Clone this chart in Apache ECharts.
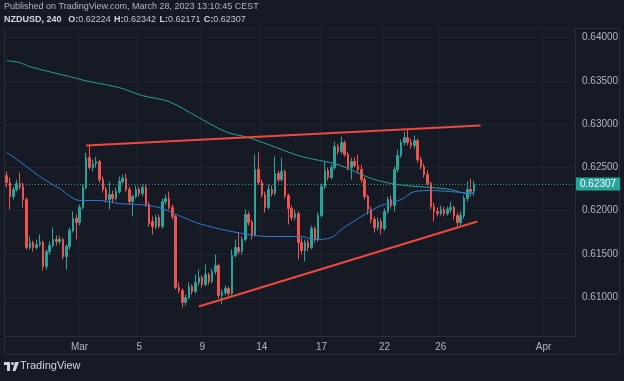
<!DOCTYPE html>
<html><head><meta charset="utf-8">
<script src="https://cdn.jsdelivr.net/npm/echarts@6/dist/echarts.min.js"></script>
<style>html,body{margin:0;padding:0;background:#161a25;}#c{width:624px;height:381px;}</style>
</head><body><div id="c"></div>
<script>
// ---- data ----
const categoryCount = 172;
const xTickIdx = [22, 40, 59, 77, 95, 114, 131, 162];
const xTickText = ['Mar', '5', '9', '14', '17', '22', '26', 'Apr'];

const opens = [.62404,.62323,.62162,.62243,.62312,.62277,.62127,.61573,.61630,.61573,.61607,.61630,.61353,.61526,.61596,.61665,.61642,.61665,.61468,.61584,
.61769,.61908,.61861,.62035,.62266,.62612,.62497,.62543,.62566,.62358,.62243,.62127,.62185,.62139,.62219,.62335,.62370,.62243,.62104,.62162,
.62243,.62196,.62266,.62069,.61873,.61815,.61919,.61815,.62104,.62139,.62035,.61931,.61111,.61076,.60938,.60995,.61122,.61064,.61168,.61226,
.61145,.61261,.61180,.61295,.61365,.61018,.61053,.61099,.61041,.61480,.61573,.61526,.61665,.61954,.61861,.61723,.62474,.62323,.62185,.62035,
.62243,.62196,.62427,.62358,.62451,.62173,.62023,.61919,.61965,.61630,.61538,.61630,.61573,.61792,.61665,.61942,.62277,.62462,.62381,.62497,
.62739,.62681,.62785,.62647,.62497,.62566,.62520,.62474,.62358,.62162,.62012,.61896,.61804,.61873,.61792,.61988,.62127,.62058,.62474,.62635,
.62785,.62843,.62785,.62751,.62809,.62589,.62508,.62416,.62312,.62046,.61988,.61965,.62012,.61965,.62012,.62035,.61942,.61861,.61942,.62139,
.62243,.62224];
const closes = [.62323,.62162,.62243,.62312,.62277,.62127,.61573,.61630,.61573,.61607,.61630,.61353,.61526,.61596,.61665,.61642,.61665,.61468,.61584,.61769,
.61908,.61861,.62035,.62266,.62612,.62497,.62543,.62566,.62358,.62243,.62127,.62185,.62139,.62219,.62335,.62370,.62243,.62104,.62162,.62243,
.62196,.62266,.62069,.61850,.61815,.61919,.61815,.62104,.62139,.62035,.61931,.61111,.61076,.60938,.60995,.61122,.61064,.61168,.61226,.61145,
.61261,.61180,.61295,.61365,.61018,.61053,.61099,.61041,.61480,.61573,.61526,.61665,.61954,.61861,.61723,.62474,.62323,.62185,.62035,.62243,
.62196,.62427,.62358,.62451,.62173,.62023,.61919,.61965,.61630,.61538,.61630,.61573,.61792,.61665,.61942,.62277,.62462,.62381,.62497,.62739,
.62681,.62785,.62647,.62497,.62566,.62520,.62474,.62358,.62162,.62012,.61896,.61804,.61873,.61792,.61988,.62127,.62058,.62474,.62635,.62785,
.62843,.62785,.62751,.62809,.62589,.62508,.62416,.62312,.62046,.61988,.61965,.62012,.61965,.62012,.62035,.61942,.61861,.61942,.62139,.62243,
.62219,.62307];
const lows = [.62266,.62012,.62127,.62219,.62243,.62035,.61550,.61550,.61526,.61550,.61584,.61307,.61318,.61492,.61573,.61596,.61607,.61434,.61318,.61550,
.61746,.61665,.61827,.62012,.62243,.62474,.62451,.62497,.62323,.62208,.62092,.62012,.62092,.62116,.62196,.62312,.62219,.62069,.61931,.62139,
.62162,.62162,.62046,.61815,.61723,.61781,.61792,.61792,.62069,.62012,.61896,.61088,.61041,.60880,.60903,.60972,.61030,.61041,.61134,.61111,
.61122,.61145,.61157,.61261,.60984,.60914,.61018,.61007,.61018,.61457,.61492,.61492,.61642,.61827,.61665,.61700,.62300,.62150,.61977,.62012,
.62162,.62173,.62323,.62335,.62139,.61838,.61885,.61885,.61434,.61492,.61411,.61526,.61550,.61630,.61642,.61919,.62254,.62347,.62358,.62474,
.62647,.62658,.62624,.62462,.62358,.62497,.62439,.62323,.62127,.61954,.61850,.61746,.61769,.61723,.61769,.61965,.62023,.61988,.62439,.62612,
.62751,.62751,.62716,.62716,.62554,.62474,.62381,.62289,.62012,.61873,.61931,.61942,.61931,.61942,.61977,.61896,.61815,.61827,.61908,.62104,
.62162,.62171];
const highs = [.62451,.62381,.62277,.62358,.62439,.62323,.62150,.61700,.61653,.61665,.61723,.61653,.61550,.61642,.61804,.61711,.61711,.61688,.61607,.61804,
.61988,.61954,.62069,.62300,.62670,.62751,.62589,.62624,.62589,.62393,.62277,.62335,.62231,.62266,.62393,.62416,.62427,.62277,.62185,.62289,
.62277,.62300,.62300,.62104,.61931,.61954,.61954,.62139,.62185,.62219,.62069,.61954,.61168,.61099,.61030,.61168,.61145,.61261,.61318,.61249,
.61376,.61284,.61330,.61492,.61388,.61088,.61134,.61122,.61550,.61665,.61746,.61700,.62012,.61988,.61896,.62647,.62670,.62358,.62219,.62300,
.62289,.62624,.62462,.62612,.62474,.62196,.62058,.62012,.61988,.61688,.61665,.61665,.61827,.61815,.61977,.62312,.62566,.62497,.62531,.62797,
.62774,.62855,.62809,.62681,.62612,.62612,.62647,.62531,.62381,.62185,.62046,.61931,.61919,.61908,.62023,.62162,.62173,.62508,.62705,.62820,
.62912,.62936,.62832,.62866,.62832,.62624,.62543,.62462,.62335,.62092,.62035,.62058,.62046,.62046,.62104,.62058,.61977,.61988,.62173,.62335,
.62370,.62342];

// slow moving average (teal), read at sample candles
const maSlowIdx = [0, 4, 7, 19, 25, 34, 41, 49, 58, 66, 73, 79, 89, 100, 110, 118, 128, 134, 139, 141];
const maSlowVal = [.63733,.63709,.63663,.63548,.63490,.63421,.63328,.63259,.63074,.62912,.62843,.62762,.62624,.62531,.62370,.62300,.62266,.62243,.62196,.62208];
// fast moving average (blue)
const maFastIdx = [0, 4, 10, 16, 22, 28, 34, 40, 46, 52, 58, 68, 79, 89, 93, 98, 101, 107, 113, 119, 123, 128, 134, 141];
const maFastVal = [.62670,.62566,.62393,.62254,.62116,.62116,.62081,.62069,.62035,.61942,.61850,.61757,.61700,.61700,.61665,.61688,.61781,.61931,.62058,.62127,.62219,.62231,.62219,.62196];

// drawn trend lines
const trendUpIdx = [24, 143];
const trendUpVal = [.62751, .62982];
const trendLowIdx = [58, 142];
const trendLowVal = [.60891, .61873];

const headerTitle = 'Published on TradingView.com, March 28, 2023 13:10:45 CEST';
const symbolText = 'NZDUSD, 240';

// ---- chart ----
const categories = Array.from({length: categoryCount}, (_, i) => String(i));
const candles = opens.map((o, i) => [o, closes[i], lows[i], highs[i]]);
const last = opens.length - 1;
const pairs = (a, b) => a.map((x, k) => [x, b[k]]);

const UP = '#26a69a', DOWN = '#ef5350';
const GRIDC = '#1f2330', BORDER = '#2a2e39', TXT = '#b2b5be';
const narrow = '"Liberation Sans Narrow","Liberation Sans",sans-serif';

const chart = echarts.init(document.getElementById('c'), null, {renderer: 'canvas'});
chart.setOption({
  backgroundColor: '#161a25',
  animation: false,
  grid: {left: 5, right: 49, top: 28, bottom: 45},
  xAxis: {
    type: 'category', data: categories, boundaryGap: true,
    axisLine: {show: true, lineStyle: {color: BORDER}},
    axisTick: {show: false},
    axisLabel: {
      interval: (i) => xTickIdx.indexOf(i) >= 0,
      formatter: (v, i) => { const k = xTickIdx.indexOf(i); return k >= 0 ? xTickText[k] : ''; },
      color: TXT, fontSize: 10, margin: 6, fontFamily: narrow
    },
    splitLine: {show: true, interval: (i) => xTickIdx.indexOf(i) >= 0, lineStyle: {color: GRIDC}}
  },
  yAxis: {
    type: 'value', position: 'right', min: 0.6055, max: 0.6411, splitNumber: 7,
    axisLine: {show: true, lineStyle: {color: BORDER}},
    axisTick: {show: false},
    axisLabel: {color: TXT, fontSize: 10, margin: 7, fontFamily: narrow,
      formatter: (v) => v.toFixed(5), showMinLabel: false, showMaxLabel: false},
    splitLine: {show: true, lineStyle: {color: GRIDC}}
  },
  series: [
    {
      type: 'candlestick', data: candles, barWidth: 2,
      itemStyle: {color: UP, color0: DOWN, borderColor: UP, borderColor0: DOWN, borderWidth: 1}
    },
    {type: 'line', data: pairs(maSlowIdx, maSlowVal), showSymbol: false, smooth: 0.3,
      lineStyle: {color: '#20a39c', width: 1}, silent: true,
      markLine: {
        silent: true, symbol: ['none', 'none'], precision: 5,
        data: [{yAxis: closes[last]}],
        lineStyle: {color: '#3a8f89', type: [1, 2], width: 1},
        label: {position: 'end', formatter: closes[last].toFixed(5), color: '#ffffff',
          backgroundColor: UP, padding: [2, 4, 1, 4], fontSize: 10, distance: 1, fontFamily: narrow}
      }},
    {type: 'line', data: pairs(maFastIdx, maFastVal), showSymbol: false, smooth: 0.3,
      lineStyle: {color: '#2d7bd8', width: 1}, silent: true},
    {type: 'line', data: pairs(trendUpIdx, trendUpVal), showSymbol: false,
      lineStyle: {color: '#f0483e', width: 2}, silent: true},
    {type: 'line', data: pairs(trendLowIdx, trendLowVal), showSymbol: false,
      lineStyle: {color: '#f0483e', width: 2}, silent: true}
  ],
  graphic: [
    {type: 'rect', silent: true, shape: {x: 4.5, y: 28.5, width: 615, height: 326},
      style: {fill: 'none', stroke: BORDER, lineWidth: 1}},
    {type: 'text', left: 4, top: 2, silent: true,
      style: {text: headerTitle, fill: TXT, font: '9px "Liberation Sans", sans-serif'}},
    {type: 'text', left: 4, top: 14, silent: true,
      style: {
        text: '{b|' + symbolText + '}  {b|O:}{n|' + opens[last].toFixed(5) + '} {b|H:}{n|' + highs[last].toFixed(5) +
              '} {b|L:}{n|' + lows[last].toFixed(5) + '} {b|C:}{n|' + closes[last].toFixed(5) + '}',
        rich: {
          b: {fill: '#d1d4dc', fontWeight: 'bold', fontSize: 9, fontFamily: 'Liberation Sans'},
          n: {fill: '#c3c6ce', fontSize: 9, fontFamily: 'Liberation Sans'}
        }
      }},
    {type: 'rect', silent: true, shape: {x: 4, y: 362, width: 6, height: 3}, style: {fill: '#d1d4dc'}},
    {type: 'rect', silent: true, shape: {x: 7, y: 362, width: 3, height: 9}, style: {fill: '#d1d4dc'}},
    {type: 'circle', silent: true, shape: {cx: 12.5, cy: 363.5, r: 1.5}, style: {fill: '#d1d4dc'}},
    {type: 'polygon', silent: true, shape: {points: [[15, 362], [19, 362], [15.5, 371], [12.5, 371]]}, style: {fill: '#d1d4dc'}},
    {type: 'text', left: 20, top: 360, silent: true,
      style: {text: 'TradingView', fill: '#d1d4dc', font: '500 11px "Liberation Sans", sans-serif'}}
  ]
});
</script>
</body></html>
